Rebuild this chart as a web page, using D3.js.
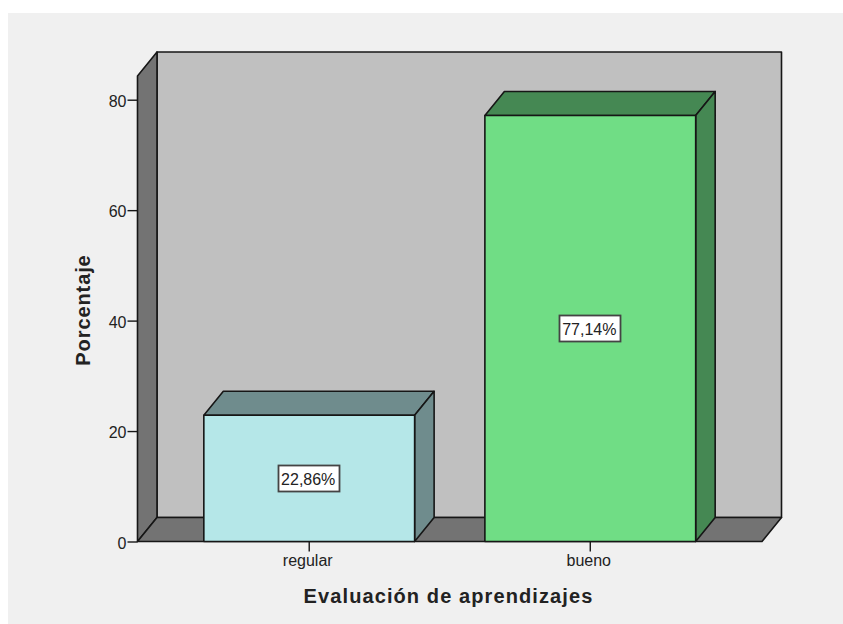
<!DOCTYPE html>
<html><head><meta charset="utf-8">
<style>html,body{margin:0;padding:0;background:#fff}svg{display:block}text{font-family:"Liberation Sans",Arial,sans-serif;fill:#222}</style>
<script src="https://cdn.jsdelivr.net/npm/d3@7"></script></head>
<body><script>
const categories = ["regular", "bueno"];
const percentages = [22.86, 77.14];
const valueLabels = ["22,86%", "77,14%"];
const yTicks = [0, 20, 40, 60, 80];
const frontColors = ["#b5e7e8", "#70dd85"];
const sideColors = ["#6f8c8d", "#458853"];
const xTitle = "Evaluación de aprendizajes";
const yTitle = "Porcentaje";

const W = 843, H = 624;
const svg = d3.select("body").append("svg").attr("width", W).attr("height", H);
svg.append("rect").attr("x", 8).attr("y", 13).attr("width", W - 8).attr("height", H - 13).attr("fill", "#f0f0f0");

const left = 137.5, right = 762, base = 541.5;
const dx = 19.5, dy = -24;
const y = d3.scaleLinear().domain([0, 80]).range([base, 99.7]);
const x = d3.scaleBand().domain(categories).range([left, right]).paddingInner(0.25).paddingOuter(0.236);
const topY = 76;
const ink = "#161616";
const poly = (pts, fill) => svg.append("polygon").attr("points", pts.map(p => p.join(",")).join(" "))
  .attr("fill", fill).attr("stroke", ink).attr("stroke-width", 1.6).attr("stroke-linejoin", "round");

// back wall, left wall, floor
poly([[left + dx, topY + dy], [right + dx, topY + dy], [right + dx, base + dy], [left + dx, base + dy]], "#c0c0c0");
poly([[left, topY], [left + dx, topY + dy], [left + dx, base + dy], [left, base]], "#737373");
poly([[left, base], [left + dx, base + dy], [right + dx, base + dy], [right, base]], "#737373");

// bars
categories.forEach((c, i) => {
  const x0 = x(c), x1 = x0 + x.bandwidth(), yt = y(percentages[i]);
  poly([[x0, yt], [x0 + dx, yt + dy], [x1 + dx, yt + dy], [x1, yt]], sideColors[i]);
  poly([[x1, yt], [x1 + dx, yt + dy], [x1 + dx, base + dy], [x1, base]], sideColors[i]);
  poly([[x0, yt], [x1, yt], [x1, base], [x0, base]], frontColors[i]);
  const cx = (x0 + x1) / 2, cy = (yt + base) / 2;
  const lw = 61, lh = 26;
  svg.append("rect").attr("x", Math.round(cx - lw / 2) - 0.5).attr("y", Math.round(cy - lh / 2) + 0.5)
    .attr("width", lw).attr("height", lh).attr("fill", "#fff").attr("stroke", "#444").attr("stroke-width", 1.8);
  svg.append("text").attr("x", cx - 1).attr("y", cy + 6.5).attr("text-anchor", "middle")
    .attr("font-size", 16).text(valueLabels[i]);
});

// axes
const yAxis = d3.axisLeft(y).tickValues(yTicks).tickSize(10).tickPadding(1).tickFormat(d3.format("d"));
const gy = svg.append("g").attr("transform", `translate(${left},0)`).call(yAxis);
gy.select(".domain").remove();
gy.selectAll("line").attr("stroke", ink).attr("stroke-width", 1.4);
gy.selectAll("text").attr("font-size", 16).attr("dy", "0.42em").attr("font-family", '"Liberation Sans",Arial,sans-serif').attr("fill", "#222");

const xAxis = d3.axisBottom(x).tickSize(10).tickPadding(3);
const gx = svg.append("g").attr("transform", `translate(0,${base})`).call(xAxis);
gx.select(".domain").remove();
gx.selectAll("line").attr("stroke", ink).attr("stroke-width", 1.4);
gx.selectAll("text").attr("font-size", 16).attr("dx", -1.5).attr("font-family", '"Liberation Sans",Arial,sans-serif').attr("fill", "#222");

svg.append("text").attr("x", 448.5).attr("y", 603).attr("text-anchor", "middle")
  .attr("font-size", 20).attr("font-weight", "bold").attr("letter-spacing", 1.1).attr("fill", "#111").text(xTitle);
svg.append("text").attr("transform", "translate(90,310) rotate(-90)").attr("text-anchor", "middle")
  .attr("font-size", 20).attr("font-weight", "bold").attr("letter-spacing", 0.9).attr("fill", "#111").text(yTitle);
</script></body></html>
